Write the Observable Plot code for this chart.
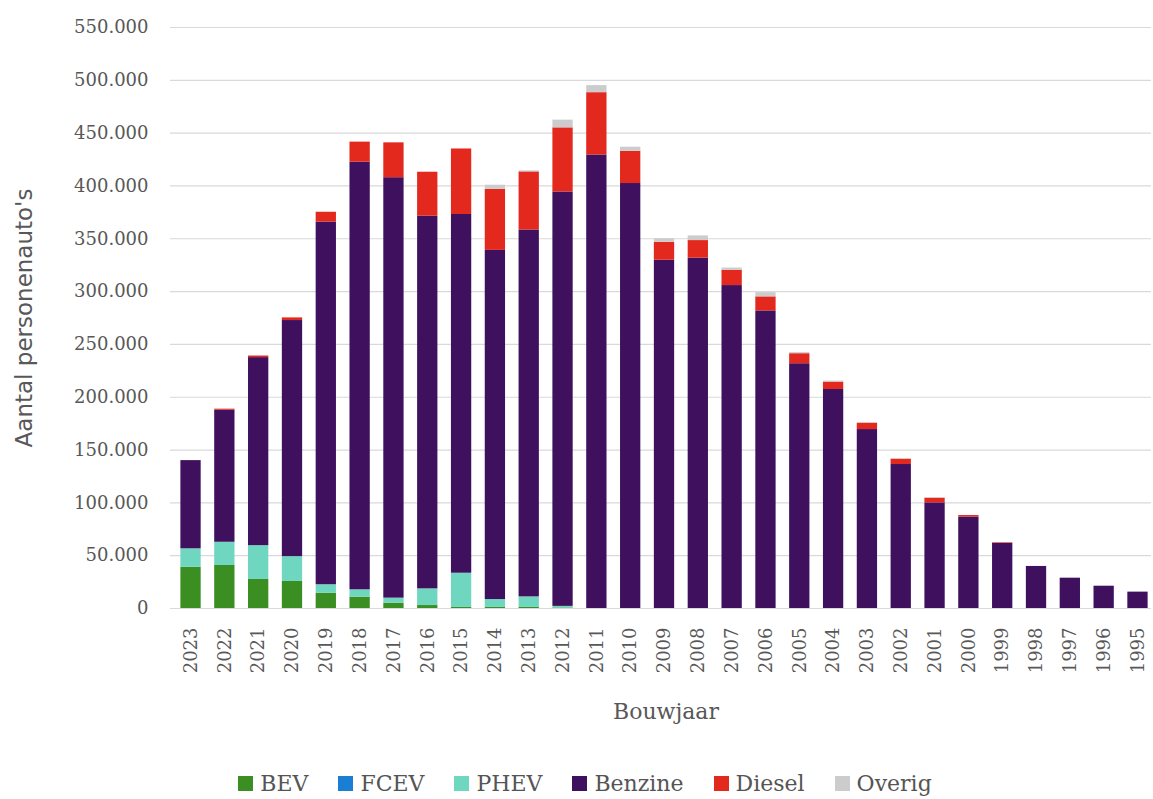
<!DOCTYPE html>
<html>
<head>
<meta charset="utf-8">
<script src="https://cdn.jsdelivr.net/npm/d3@7"></script>
<script src="https://cdn.jsdelivr.net/npm/@observablehq/plot@0.6"></script>
<style>
  html, body { margin: 0; padding: 0; background: #fff; }
  #chart { width: 1153px; }
  .legend { display: flex; justify-content: center; align-items: center; height: 30px; padding-top: 8px; margin-left: 17px;
    font-family: "DejaVu Serif", serif; font-size: 22px; color: #555; }
  .legend .item { display: flex; align-items: center; margin: 0 15px; }
  .legend .sw { width: 15px; height: 15px; margin-right: 7px; }
</style>
</head>
<body>
<div id="chart"></div>
<script>
const years = ["2023","2022","2021","2020","2019","2018","2017","2016","2015","2014","2013","2012","2011","2010","2009","2008","2007","2006","2005","2004","2003","2002","2001","2000","1999","1998","1997","1996","1995"];
const fuels = ["BEV", "FCEV", "PHEV", "Benzine", "Diesel", "Overig"];
const colors = ["#3a8e22", "#1a7fd4", "#6fd6c0", "#3f105e", "#e3281d", "#cccccc"];

const bev     = [39000, 40700, 27500, 25600, 14500, 10700, 5000, 2800, 1000, 1000, 1000, 500, 0, 0, 0, 0, 0, 0, 0, 0, 0, 0, 0, 0, 0, 0, 0, 0, 0];
const fcev    = [0, 0, 0, 0, 0, 0, 0, 0, 0, 0, 0, 0, 0, 0, 0, 0, 0, 0, 0, 0, 0, 0, 0, 0, 0, 0, 0, 0, 0];
const phev    = [17500, 22000, 32000, 23500, 8000, 7000, 4800, 15800, 32400, 7500, 10000, 1500, 0, 0, 0, 0, 0, 0, 0, 0, 0, 0, 0, 0, 0, 0, 0, 0, 0];
const benzine = [83500, 125000, 178000, 223500, 343300, 404800, 398000, 352800, 339600, 330500, 347300, 392300, 429300, 402300, 329700, 331700, 305700, 281700, 231700, 207300, 169400, 136300, 100000, 86500, 61700, 39800, 28700, 21100, 15500];
const diesel  = [0, 1000, 1500, 2500, 9300, 19000, 33000, 41600, 62000, 57700, 55000, 60700, 59000, 30400, 17000, 16600, 14300, 13300, 9500, 7000, 6000, 5000, 4400, 1500, 500, 0, 0, 0, 0];
const overig  = [0, 0, 0, 0, 0, 0, 0, 0, 0, 4000, 1000, 7300, 6700, 4000, 3300, 4400, 2300, 4000, 1000, 1000, 500, 500, 500, 0, 0, 0, 0, 0, 0];
const yTicks = [0, 50000, 100000, 150000, 200000, 250000, 300000, 350000, 400000, 450000, 500000, 550000];

const series = [bev, fcev, phev, benzine, diesel, overig];
const data = [];
years.forEach((yr, i) => {
  fuels.forEach((f, j) => data.push({ year: yr, fuel: f, value: series[j][i] }));
});

const nl = d3.formatLocale({ decimal: ",", thousands: ".", grouping: [3], currency: ["€", ""] });
const fmt = nl.format(",");

const sansFont = '"DejaVu Sans", "Roboto", sans-serif';
const serifFont = '"DejaVu Serif", serif';

const chart = Plot.plot({
  width: 1153,
  height: 760,
  marginLeft: 170,
  marginRight: 2,
  marginTop: 27,
  marginBottom: 152,
  style: { fontFamily: serifFont, background: "#fff" },
  x: { domain: years, paddingInner: 0.4, paddingOuter: 0.1, insetLeft: 7, round: false, label: null },
  y: { domain: [0, 550000], label: null },
  color: { domain: fuels, range: colors },
  marks: [
    Plot.ruleY(yTicks, { stroke: "#d9d9d9", strokeWidth: 1.2 }),
    Plot.barY(data, { x: "year", y: "value", fill: "fuel", order: fuels }),
    Plot.axisY({ ticks: yTicks, tickFormat: fmt, tickSize: 0, tickPadding: 22, fontSize: 18, fill: "#585858", fontFamily: serifFont, label: null, style: { letterSpacing: "1.3px" } }),
    Plot.axisX({ tickRotate: -90, tickSize: 0, tickPadding: 19, fontSize: 18, fill: "#585858", fontFamily: serifFont, label: null }),
    Plot.text(["Aantal personenauto's"], { frameAnchor: "left", textAnchor: "middle", dx: -146, rotate: -90, fontSize: 23, fill: "#585858", fontFamily: sansFont }),
    Plot.text(["Bouwjaar"], { frameAnchor: "bottom", textAnchor: "middle", dy: 110, dx: 5, fontSize: 22, fill: "#585858", fontFamily: serifFont })
  ]
});
document.getElementById("chart").appendChild(chart);

const legend = document.createElement("div");
legend.className = "legend";
fuels.forEach((f, j) => {
  const item = document.createElement("div");
  item.className = "item";
  const sw = document.createElement("span");
  sw.className = "sw";
  sw.style.background = colors[j];
  const t = document.createElement("span");
  t.textContent = f;
  item.appendChild(sw);
  item.appendChild(t);
  legend.appendChild(item);
});
document.body.appendChild(legend);
</script>
</body>
</html>
